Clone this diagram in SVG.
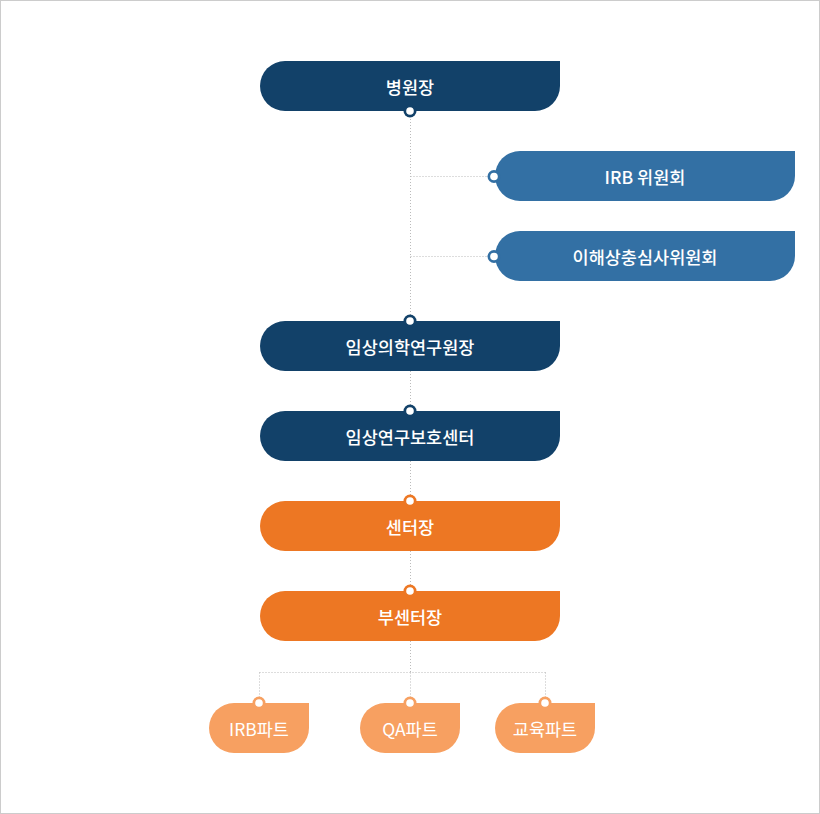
<svg xmlns="http://www.w3.org/2000/svg" width="820" height="814" viewBox="0 0 820 814">
<style>
.t{font-family:"Noto Sans CJK KR","Noto Sans",sans-serif;font-size:17.5px;font-weight:500;fill:#fff;text-anchor:middle;dominant-baseline:central}
.ts{font-family:"Noto Sans CJK KR","Noto Sans",sans-serif;font-size:17.5px;font-weight:400;fill:#fff;text-anchor:middle;dominant-baseline:central}
.navy{fill:#124169}
.blue{fill:#3370a4}
.orange{fill:#ed7723}
.lorange{fill:#f7a061}
.in{fill:#fff}
.ln{stroke:#bbb;stroke-width:1;stroke-dasharray:1 2;fill:none}
</style>
<defs>
<path id="big" d="M25 0H300V25A25 25 0 0 1 275 50H25A25 25 0 0 1 25 0Z"/>
<path id="small" d="M25 0H100V25A25 25 0 0 1 75 50H25A25 25 0 0 1 25 0Z"/>
</defs>
<rect x="0.5" y="0.5" width="819" height="813" fill="#fff" stroke="#ccc"/>
<g id="connectors">
<path class="ln" d="M410.5 116V591"/>
<path class="ln" d="M410.5 176.5H489M410.5 256.5H489"/>
<path class="ln" d="M410.5 641V672.5M259.5 672.5H545.5M259.5 672.5V697M410.5 672.5V697M545.5 672.5V697"/>
</g>
<g id="n1">
<use href="#big" x="260" y="61" class="navy"/>
<circle cx="410" cy="111" r="6.5" class="navy"/><circle cx="410" cy="111" r="3.8" class="in"/>
<text x="410" y="86" class="t">병원장</text>
</g>
<g id="n2">
<use href="#big" x="495" y="151" class="blue"/>
<circle cx="494" cy="176.5" r="6.5" class="blue"/><circle cx="494" cy="176.5" r="3.8" class="in"/>
<text x="645" y="176" class="t">IRB 위원회</text>
</g>
<g id="n3">
<use href="#big" x="495" y="231" class="blue"/>
<circle cx="494" cy="256.5" r="6.5" class="blue"/><circle cx="494" cy="256.5" r="3.8" class="in"/>
<text x="645" y="256" class="t">이해상충심사위원회</text>
</g>
<g id="n4">
<use href="#big" x="260" y="321" class="navy"/>
<circle cx="410" cy="321" r="6.5" class="navy"/><circle cx="410" cy="321" r="3.8" class="in"/>
<text x="410" y="346" class="t">임상의학연구원장</text>
</g>
<g id="n5">
<use href="#big" x="260" y="411" class="navy"/>
<circle cx="410" cy="411" r="6.5" class="navy"/><circle cx="410" cy="411" r="3.8" class="in"/>
<text x="410" y="436" class="t">임상연구보호센터</text>
</g>
<g id="n6">
<use href="#big" x="260" y="501" class="orange"/>
<circle cx="410" cy="501" r="6.5" class="orange"/><circle cx="410" cy="501" r="3.8" class="in"/>
<text x="410" y="526" class="t">센터장</text>
</g>
<g id="n7">
<use href="#big" x="260" y="591" class="orange"/>
<circle cx="410" cy="591" r="6.5" class="orange"/><circle cx="410" cy="591" r="3.8" class="in"/>
<text x="410" y="616" class="t">부센터장</text>
</g>
<g id="n8">
<use href="#small" x="209" y="703" class="lorange"/>
<circle cx="259" cy="703" r="6.5" class="lorange"/><circle cx="259" cy="703" r="3.8" class="in"/>
<text x="259" y="728" class="ts">IRB파트</text>
</g>
<g id="n9">
<use href="#small" x="360" y="703" class="lorange"/>
<circle cx="410" cy="703" r="6.5" class="lorange"/><circle cx="410" cy="703" r="3.8" class="in"/>
<text x="410" y="728" class="ts">QA파트</text>
</g>
<g id="n10">
<use href="#small" x="495" y="703" class="lorange"/>
<circle cx="545" cy="703" r="6.5" class="lorange"/><circle cx="545" cy="703" r="3.8" class="in"/>
<text x="545" y="728" class="ts">교육파트</text>
</g>
</svg>
